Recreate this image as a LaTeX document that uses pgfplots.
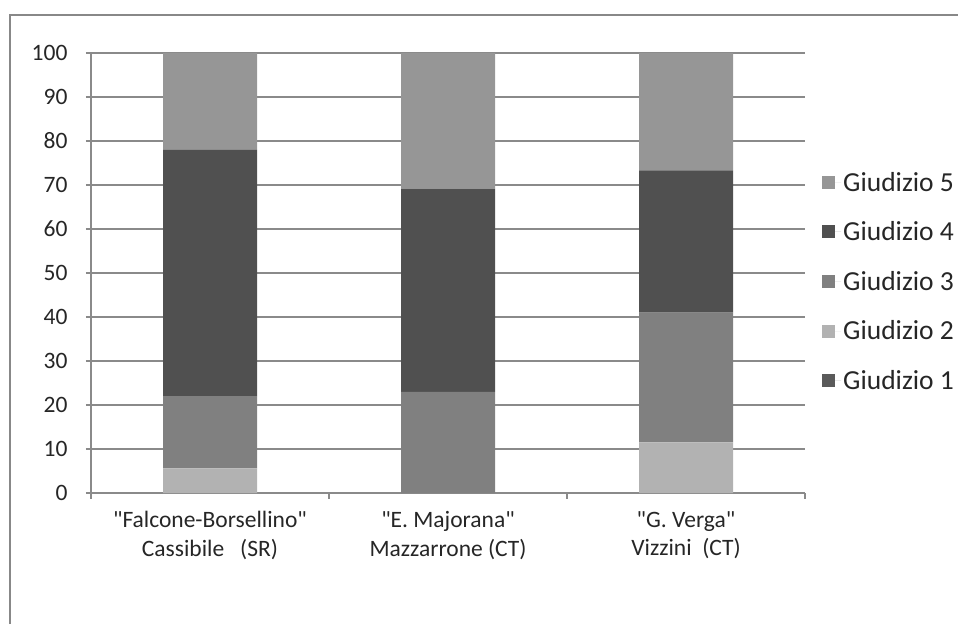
\documentclass[border=0pt]{standalone}
\usepackage{fontspec}
\setmainfont{Carlito}[Ligatures=TeXOff]
\usepackage{pgfplots}
\pgfplotsset{compat=1.18}

\definecolor{gfive}{HTML}{969696}
\definecolor{gfour}{HTML}{505050}
\definecolor{gthree}{HTML}{808080}
\definecolor{gtwo}{HTML}{B2B2B2}
\definecolor{gone}{HTML}{5A5A5A}
\definecolor{linegray}{HTML}{8A8A8A}
\definecolor{framegray}{HTML}{888888}
\definecolor{txt}{HTML}{262626}

\begin{document}
\begin{tikzpicture}[x=1pt,y=1pt]
\useasboundingbox (0,0) rectangle (958,624);
% chart frame
\draw[framegray, line width=2pt] (10,0) -- (10,609) -- (958,609);
\begin{axis}[
  at={(91pt,131pt)}, anchor=south west,
  scale only axis, width=714pt, height=440pt,
  xmin=0, xmax=3, ymin=0, ymax=100,
  ybar stacked, bar width=94pt,
  axis lines*=left,
  axis line style={linegray, line width=1.5pt},
  ymajorgrids, grid style={linegray, line width=1.5pt},
  ytick={0,10,...,100},
  xtick={0.5,1.5,2.5},
  xticklabels={{"Falcone-Borsellino"\\Cassibile\ \ \ (SR)},{"E. Majorana"\\Mazzarrone (CT)},{"G. Verga"\\Vizzini\ \ (CT)}},
  minor xtick={0,1,2,3},
  tick align=outside, tick pos=left,
  major tick length=5pt, minor tick length=6pt,
  major x tick style={draw=none},
  tick style={linegray, line width=1.5pt},
  /pgf/number format/assume math mode=true,
  ticklabel style={font=\fontsize{23.5}{28.5}\selectfont, text=txt},
  xticklabel style={align=center, yshift=-10pt},
  yticklabel style={xshift=-15pt},
  reverse legend,
  legend cell align=left,
  legend style={at={(1.0238,0.4807)}, anchor=west, draw=none, fill=none,
    inner sep=0pt, font=\fontsize{27.5}{32}\selectfont, text=txt, row sep=25pt},
  legend image code/.code={%
    \fill[#1] (0pt,-6.5pt) rectangle (13pt,6.5pt);
    \path (0pt,0pt) -- (19pt,0pt);},
  clip=false,
]
\addplot[fill=gone, draw=none] coordinates {(0.5,0) (1.5,0) (2.5,0)};
\addplot[fill=gtwo, draw=none] coordinates {(0.5,5.6) (1.5,0) (2.5,11.5)};
\addplot[fill=gthree, draw=none] coordinates {(0.5,16.4) (1.5,23) (2.5,29.5)};
\addplot[fill=gfour, draw=none] coordinates {(0.5,56) (1.5,46.2) (2.5,32.3)};
\addplot[fill=gfive, draw=none] coordinates {(0.5,22) (1.5,30.8) (2.5,26.7)};
\legend{Giudizio 1, Giudizio 2, Giudizio 3, Giudizio 4, Giudizio 5}
\end{axis}
\end{tikzpicture}
\end{document}
